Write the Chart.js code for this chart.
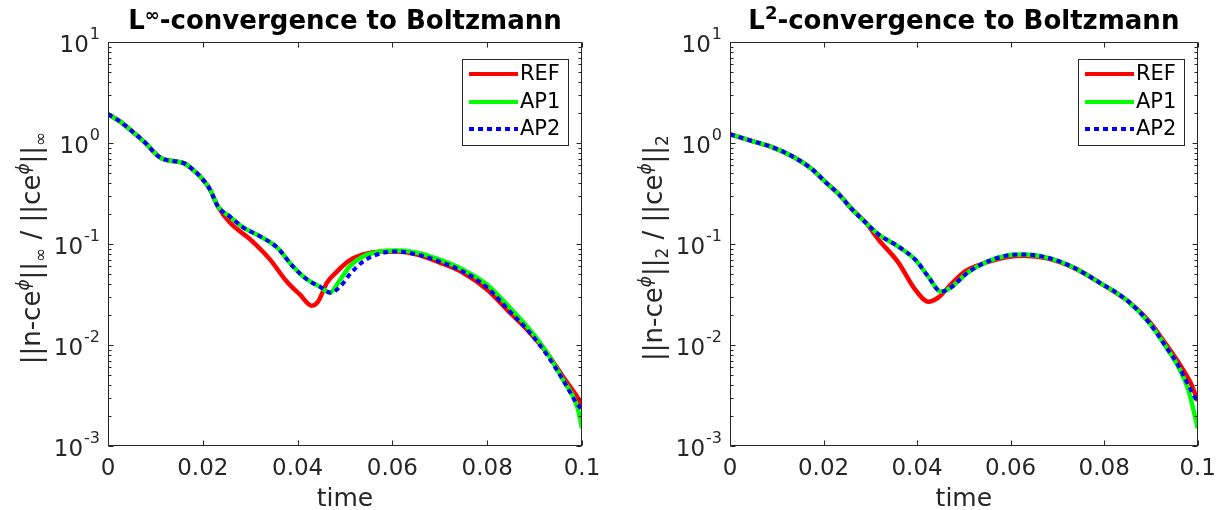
<!DOCTYPE html>
<html><head><meta charset="utf-8">
<script src="https://cdn.jsdelivr.net/npm/chart.js@4.4.1/dist/chart.umd.min.js"></script>
<style>
html,body{margin:0;padding:0;background:#fff;}
#wrap{position:relative;width:1225px;height:510px;overflow:hidden;}
.box{position:absolute;top:0;height:510px;}
</style></head><body>
<div id="wrap">
<div class="box" style="left:0;width:612px"><canvas id="c1"></canvas></div>
<div class="box" style="left:612px;width:613px"><canvas id="c2"></canvas></div>
</div>
<script>
// ---- tick labels / categories ----
const xTickVals = [0, 0.02, 0.04, 0.06, 0.08, 0.1];
const yDecades = [-3, -2, -1, 0, 1];
const seriesNames = ['REF', 'AP1', 'AP2'];
const xLabel = 'time';

// ---- left chart: L-infinity ----
const linfRefT = [0,0.0025,0.0053,0.0082,0.0096,0.0106,0.0116,0.0126,0.0145,0.0162,0.0178,0.0194,0.0215,0.0232,0.0257,0.030,0.0342,0.0377,0.0405,0.043,0.0443,0.0462,0.0483,0.0506,0.0538,0.058,0.061,0.0652,0.070,0.0749,0.080,0.0848,0.089,0.0926,0.096,0.099,0.1];
const linfRefV = [1.93,1.64,1.28,0.97,0.82,0.74,0.695,0.675,0.655,0.625,0.55,0.468,0.347,0.235,0.163,0.111,0.070,0.0425,0.0315,0.0245,0.0268,0.0415,0.0533,0.067,0.0787,0.0843,0.0843,0.0787,0.0655,0.052,0.0353,0.0209,0.01325,0.00837,0.00484,0.00306,0.0025];
const linfAp1T = [0,0.0025,0.0053,0.0082,0.0096,0.0106,0.0116,0.0126,0.0145,0.0162,0.0178,0.0194,0.0215,0.0232,0.0257,0.0285,0.0321,0.0357,0.039,0.042,0.0447,0.0468,0.049,0.051,0.0538,0.0574,0.061,0.0652,0.070,0.0749,0.080,0.0848,0.089,0.0926,0.096,0.099,0.1];
const linfAp1V = [1.93,1.64,1.28,0.97,0.82,0.74,0.695,0.675,0.655,0.625,0.55,0.468,0.347,0.235,0.187,0.146,0.119,0.092,0.060,0.0445,0.0378,0.033,0.0445,0.060,0.075,0.0843,0.086,0.082,0.070,0.0558,0.0396,0.0234,0.01415,0.0084,0.00452,0.00244,0.0015];
const linfAp2T = [0,0.0025,0.0053,0.0082,0.0096,0.0106,0.0116,0.0126,0.0145,0.0162,0.0178,0.0194,0.0215,0.0232,0.0257,0.0285,0.0321,0.0357,0.039,0.042,0.0447,0.047,0.049,0.051,0.0538,0.0574,0.061,0.0652,0.070,0.0749,0.080,0.0848,0.089,0.0926,0.096,0.099,0.1];
const linfAp2V = [1.93,1.64,1.28,0.97,0.82,0.74,0.695,0.675,0.655,0.625,0.55,0.468,0.347,0.235,0.187,0.146,0.119,0.092,0.060,0.0445,0.0378,0.033,0.038,0.050,0.067,0.0805,0.0843,0.0787,0.067,0.0533,0.037,0.0214,0.01325,0.008,0.00452,0.0026,0.0023];

// ---- right chart: L2 ----
const l2RefT = [0,0.0049,0.0091,0.0133,0.0176,0.0205,0.0233,0.0261,0.029,0.0318,0.036,0.0396,0.0424,0.0445,0.0472,0.0502,0.055,0.0593,0.0629,0.0678,0.0735,0.079,0.0847,0.0896,0.0932,0.096,0.0985,0.1];
const l2RefV = [1.22,1.04,0.907,0.738,0.548,0.407,0.31,0.22,0.163,0.11,0.0655,0.0353,0.0268,0.0294,0.0396,0.0533,0.066,0.0745,0.0765,0.072,0.058,0.0415,0.028,0.0172,0.0102,0.0066,0.0042,0.0028];
const l2Ap1T = [0,0.0049,0.0091,0.0133,0.0176,0.0205,0.0233,0.0261,0.029,0.0318,0.036,0.0396,0.0424,0.0451,0.0472,0.0508,0.055,0.0593,0.0629,0.0678,0.0735,0.079,0.0847,0.0896,0.0932,0.096,0.098,0.1];
const l2Ap1V = [1.22,1.04,0.907,0.738,0.548,0.407,0.31,0.22,0.163,0.124,0.0944,0.070,0.0475,0.0338,0.037,0.052,0.067,0.0769,0.0787,0.0734,0.0585,0.0415,0.0281,0.01665,0.0096,0.0059,0.0036,0.0015];
const l2Ap2T = [0,0.0049,0.0091,0.0133,0.0176,0.0205,0.0233,0.0261,0.029,0.0318,0.036,0.0396,0.0424,0.0451,0.0472,0.0508,0.055,0.0593,0.0629,0.0678,0.0735,0.079,0.0847,0.0896,0.0932,0.096,0.098,0.1];
const l2Ap2V = [1.22,1.04,0.907,0.738,0.548,0.407,0.31,0.22,0.163,0.124,0.0944,0.070,0.0475,0.0338,0.037,0.052,0.067,0.0769,0.0787,0.0734,0.0585,0.0415,0.0281,0.01665,0.0096,0.0061,0.0040,0.0027];

const FONT = 'DejaVu Sans';
const AX = '#262626';

function zip(t, v) { return t.map((x, i) => ({x: x, y: v[i]})); }

function drawSegs(ctx, segs, x, y, align) {
  let total = 0;
  const f = s => (s.italic ? 'italic ' : '') + (s.bold ? 'bold ' : '') + s.size + 'px "' + FONT + '"';
  segs.forEach(s => { ctx.font = f(s); s.w = ctx.measureText(s.t).width; total += s.w; });
  let cx = align === 'center' ? x - total / 2 : (align === 'right' ? x - total : x);
  segs.forEach(s => {
    ctx.font = f(s);
    ctx.fillText(s.t, cx, y + (s.dy || 0));
    cx += s.w;
  });
}

const framePlugin = {
  id: 'frame',
  afterDraw(chart) {
    const {ctx, chartArea: a, scales: {x, y}} = chart;
    const c = chart.options.plugins.frame;
    ctx.save();
    ctx.strokeStyle = AX; ctx.lineWidth = 1;
    const L = Math.round(a.left) + 0.5, R = Math.round(a.right) - 0.5, T = Math.round(a.top) + 0.5, B = Math.round(a.bottom) - 0.5;
    ctx.strokeRect(L, T, R - L, B - T);
    ctx.beginPath();
    xTickVals.forEach(v => {
      const px = Math.round(x.getPixelForValue(v)) + 0.5;
      ctx.moveTo(px, B); ctx.lineTo(px, B - 5);
      ctx.moveTo(px, T); ctx.lineTo(px, T + 5);
    });
    yDecades.forEach(d => {
      const py = Math.round(y.getPixelForValue(Math.pow(10, d))) + 0.5;
      ctx.moveTo(L, py); ctx.lineTo(L + 5, py);
      ctx.moveTo(R, py); ctx.lineTo(R - 5, py);
      if (d < 1) {
        for (let k = 2; k <= 9; k++) {
          const pm = Math.round(y.getPixelForValue(k * Math.pow(10, d))) + 0.5;
          ctx.moveTo(L, pm); ctx.lineTo(L + 3, pm);
          ctx.moveTo(R, pm); ctx.lineTo(R - 3, pm);
        }
      }
    });
    ctx.stroke();

    // y tick labels (10^n)
    ctx.fillStyle = AX; ctx.textBaseline = 'alphabetic'; ctx.textAlign = 'left';
    yDecades.forEach(d => {
      const py = y.getPixelForValue(Math.pow(10, d));
      ctx.font = '16px "' + FONT + '"';
      const e = String(d);
      const ew = ctx.measureText(e).width;
      const ex = a.left - 8 - ew;
      ctx.fillText(e, ex, py - 3);
      ctx.font = '23px "' + FONT + '"';
      const bw = ctx.measureText('10').width;
      ctx.fillText('10', ex - bw - 1, py + 10);
    });

    // y axis label (rotated)
    ctx.save();
    ctx.translate(a.left - 68, (a.top + a.bottom) / 2 + 4);
    ctx.rotate(-Math.PI / 2);
    const sub = c.sub;
    drawSegs(ctx, [
      {t: '||n-ce', size: 26}, {t: '\u03D5', size: 17, dy: -11, italic: true}, {t: '||', size: 26}, {t: sub, size: 17, dy: 6},
      {t: ' / ||ce', size: 26}, {t: '\u03D5', size: 17, dy: -11, italic: true}, {t: '||', size: 26}, {t: sub, size: 17, dy: 6}
    ], 0, 0, 'center');
    ctx.restore();

    // x axis label
    ctx.font = '25px "' + FONT + '"';
    ctx.textAlign = 'center';
    ctx.fillText(xLabel, (a.left + a.right) / 2, 506);
    ctx.textAlign = 'left';

    // title
    ctx.fillStyle = '#000';
    drawSegs(ctx, [
      {t: 'L', size: 26, bold: true}, {t: c.sup, size: c.supSize, bold: true, dy: c.supDy},
      {t: '-convergence to Boltzmann', size: 26, bold: true}
    ], (a.left + a.right) / 2, 29, 'center');

    // legend
    const bw = 106, bh = 86, bx = Math.round(a.right) - 14 - bw, by = Math.round(a.top) + 17;
    ctx.fillStyle = '#fff';
    ctx.fillRect(bx, by, bw, bh);
    ctx.strokeStyle = AX; ctx.lineWidth = 1;
    ctx.strokeRect(bx + 0.5, by + 0.5, bw, bh);
    const rows = [15, 43, 70];
    chart.data.datasets.forEach((ds, i) => {
      const ly = by + rows[i];
      ctx.strokeStyle = ds.borderColor; ctx.lineWidth = 4;
      ctx.setLineDash(ds.borderDash || []);
      ctx.lineCap = 'butt';
      ctx.beginPath(); ctx.moveTo(bx + 7, ly); ctx.lineTo(bx + 56, ly); ctx.stroke();
      ctx.setLineDash([]);
      ctx.fillStyle = '#000';
      ctx.font = '21px "' + FONT + '"';
      ctx.textBaseline = 'middle';
      ctx.fillText(ds.label, bx + 58, ly + 1);
      ctx.textBaseline = 'alphabetic';
    });
    ctx.restore();
  }
};

function makeChart(id, d, o) {
  return new Chart(document.getElementById(id), {
    type: 'line',
    data: {datasets: [
      {label: seriesNames[0], data: zip(d.refT, d.refV), borderColor: '#ff0000', borderWidth: 4.5, order: 3},
      {label: seriesNames[1], data: zip(d.ap1T, d.ap1V), borderColor: '#00ff00', borderWidth: 4.5, order: 2},
      {label: seriesNames[2], data: zip(d.ap2T, d.ap2V), borderColor: '#0000ff', borderWidth: 4, borderDash: [5, 4], order: 1}
    ]},
    options: {
      responsive: true, maintainAspectRatio: false, animation: false,
      layout: {padding: {left: 0, top: 42, right: o.padRight, bottom: 0}},
      elements: {point: {radius: 0}, line: {cubicInterpolationMode: 'monotone', borderCapStyle: 'butt', fill: false}},
      plugins: {legend: {display: false}, tooltip: {enabled: false}, title: {display: false},
        frame: {sub: o.sub, sup: o.sup, supSize: o.supSize, supDy: o.supDy}},
      scales: {
        x: {type: 'linear', min: 0, max: 0.1,
          afterBuildTicks: s => { s.ticks = xTickVals.map(v => ({value: v})); },
          grid: {display: false, drawTicks: false}, border: {display: false},
          ticks: {padding: 9, color: AX, font: {family: FONT, size: 23}, maxRotation: 0, autoSkip: false,
            callback: v => String(Number(Number(v).toFixed(2)))},
          afterFit: s => { s.height = 64; }},
        y: {type: 'logarithmic', min: 1e-3, max: 10,
          grid: {display: false}, border: {display: false}, ticks: {display: false},
          afterFit: s => { s.width = o.left; }}
      }
    },
    plugins: [framePlugin]
  });
}

makeChart('c1', {refT: linfRefT, refV: linfRefV, ap1T: linfAp1T, ap1V: linfAp1V, ap2T: linfAp2T, ap2V: linfAp2V},
  {left: 108, padRight: 30, sub: '\u221E', sup: '\u221E', supSize: 18, supDy: -8});
makeChart('c2', {refT: l2RefT, refV: l2RefV, ap1T: l2Ap1T, ap1V: l2Ap1V, ap2T: l2Ap2T, ap2V: l2Ap2V},
  {left: 118, padRight: 23, sub: '2', sup: '2', supSize: 18, supDy: -10});
</script>
</body></html>
